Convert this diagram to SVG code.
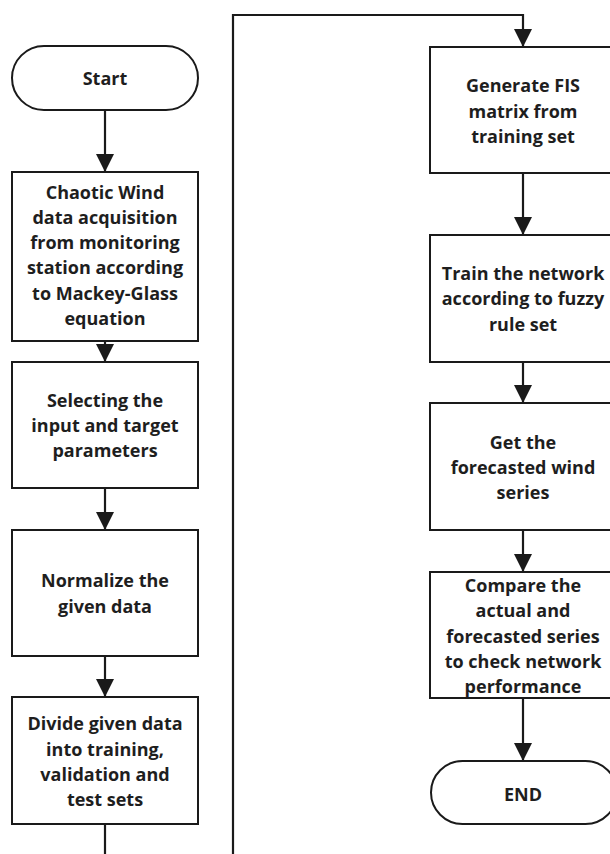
<svg xmlns="http://www.w3.org/2000/svg" width="610" height="854" viewBox="0 0 610 854">
<defs>
<style>
.box{fill:#fff;stroke:#1a1a1a;stroke-width:2}
.t{font-family:"Open Sans","DejaVu Sans",sans-serif;font-weight:bold;font-size:18px;fill:#1e1e1e;text-anchor:middle}
.c{fill:none;stroke:#1a1a1a;stroke-width:2.2}
</style>
<marker id="ah" markerUnits="userSpaceOnUse" markerWidth="18" markerHeight="18" viewBox="0 0 16 16" refX="16" refY="8" orient="auto">
<path d="M0,0 L16,8 L0,16 Z" fill="#1a1a1a"/>
</marker>
</defs>
<rect width="610" height="854" fill="#fff"/>
<g id="connectors">
<path class="c" d="M105,110 V172" marker-end="url(#ah)"/>
<path class="c" d="M105,341 V362" marker-end="url(#ah)"/>
<path class="c" d="M105,488 V530" marker-end="url(#ah)"/>
<path class="c" d="M105,656 V697" marker-end="url(#ah)"/>
<path class="c" d="M105,824 V870 H233 V15 H523 V47" marker-end="url(#ah)"/>
<path class="c" d="M523,173 V235" marker-end="url(#ah)"/>
<path class="c" d="M523,362 V403" marker-end="url(#ah)"/>
<path class="c" d="M523,530 V572" marker-end="url(#ah)"/>
<path class="c" d="M523,698 V761" marker-end="url(#ah)"/>
</g>
<g id="start">
<rect class="box" x="12" y="46" width="186" height="64" rx="32" ry="32"/>
<text class="t" x="105" y="85">Start</text>
</g>
<g id="acquire">
<rect class="box" x="12" y="172" width="186" height="169"/>
<text class="t" x="105" y="199">Chaotic Wind</text>
<text class="t" x="105" y="224">data acquisition</text>
<text class="t" x="105" y="249">from monitoring</text>
<text class="t" x="105" y="274">station according</text>
<text class="t" x="105" y="300">to Mackey-Glass</text>
<text class="t" x="105" y="325">equation</text>
</g>
<g id="select">
<rect class="box" x="12" y="362" width="186" height="126"/>
<text class="t" x="105" y="407">Selecting the</text>
<text class="t" x="105" y="432">input and target</text>
<text class="t" x="105" y="457">parameters</text>
</g>
<g id="normalize">
<rect class="box" x="12" y="530" width="186" height="126"/>
<text class="t" x="105" y="587">Normalize the</text>
<text class="t" x="105" y="613">given data</text>
</g>
<g id="divide">
<rect class="box" x="12" y="697" width="186" height="127"/>
<text class="t" x="105" y="730">Divide given data</text>
<text class="t" x="105" y="756">into training,</text>
<text class="t" x="105" y="781">validation and</text>
<text class="t" x="105" y="806">test sets</text>
</g>
<g id="generate">
<rect class="box" x="430" y="47" width="186" height="126"/>
<text class="t" x="523" y="92">Generate FIS</text>
<text class="t" x="523" y="118">matrix from</text>
<text class="t" x="523" y="143">training set</text>
</g>
<g id="train">
<rect class="box" x="430" y="235" width="186" height="127"/>
<text class="t" x="523" y="280">Train the network</text>
<text class="t" x="523" y="305">according to fuzzy</text>
<text class="t" x="523" y="331">rule set</text>
</g>
<g id="forecast">
<rect class="box" x="430" y="403" width="186" height="127"/>
<text class="t" x="523" y="449">Get the</text>
<text class="t" x="523" y="474">forecasted wind</text>
<text class="t" x="523" y="499">series</text>
</g>
<g id="compare">
<rect class="box" x="430" y="572" width="186" height="126"/>
<text class="t" x="523" y="592">Compare the</text>
<text class="t" x="523" y="617">actual and</text>
<text class="t" x="523" y="643">forecasted series</text>
<text class="t" x="523" y="668">to check network</text>
<text class="t" x="523" y="693">performance</text>
</g>
<g id="end">
<rect class="box" x="431" y="761" width="186" height="63" rx="31.5" ry="31.5"/>
<text class="t" x="523" y="801">END</text>
</g>
</svg>
